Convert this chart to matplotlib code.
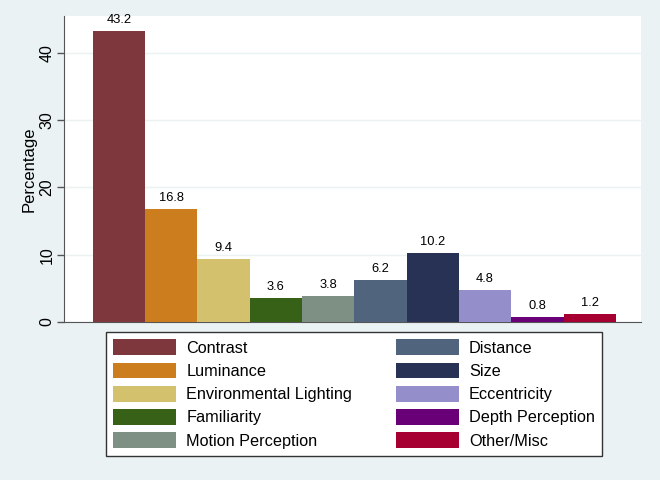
import matplotlib
matplotlib.use("Agg")
import matplotlib.pyplot as plt
from matplotlib.patches import Patch

plt.rcParams['font.family'] = ['Liberation Sans', 'DejaVu Sans']

categories = ["Contrast", "Luminance", "Environmental Lighting", "Familiarity",
              "Motion Perception", "Distance", "Size", "Eccentricity",
              "Depth Perception", "Other/Misc"]
values = [43.2, 16.8, 9.4, 3.6, 3.8, 6.2, 10.2, 4.8, 0.8, 1.2]
colors = ["#7E383D", "#CC7E1F", "#D3C16D", "#386118", "#7D9083",
          "#50657D", "#283254", "#948ECB", "#6A0078", "#A60032"]
yticks = [0, 10, 20, 30, 40]

bg = "#EAF2F3"
fig = plt.figure(figsize=(6.6, 4.8), dpi=100, facecolor=bg)
ax = fig.add_axes([64/660, 1 - 322/480, 577/660, 306/480])
ax.set_facecolor("white")

x = list(range(len(values)))
ax.bar(x, values, width=1.0, color=colors, edgecolor="none", zorder=3)
for xi, v in zip(x, values):
    ax.text(xi, v + 0.75, f"{v:.1f}", ha="center", va="bottom", fontsize=9.3, zorder=4)

ax.set_xlim(-1.05, 9.98)
ax.set_ylim(0, 45.5)
ax.set_xticks([])
ax.set_yticks(yticks)
ax.set_yticklabels([str(t) for t in yticks], rotation=90, va="center", fontsize=11.5)
ax.tick_params(axis="y", length=5, width=1, color="#555555", pad=2)
ax.grid(axis="y", color=bg, linewidth=1, zorder=0)
ax.set_ylabel("Percentage", fontsize=12, labelpad=2)

for s in ["top", "right"]:
    ax.spines[s].set_visible(False)
ax.spines["left"].set_color("#555555")
ax.spines["bottom"].set_color("#555555")

handles = [Patch(facecolor=c, edgecolor="none") for c in colors]
leg = fig.legend(handles, categories, ncol=2, loc="upper left",
                 bbox_to_anchor=(106/660, 1 - 332/480 - 0.01, 496/660, 0.01),
                 mode="expand", fontsize=11.7, frameon=True, fancybox=False,
                 handlelength=3.88, handleheight=1.12, labelspacing=0.42,
                 handletextpad=0.62, borderpad=0.45, borderaxespad=0)
leg.get_frame().set_edgecolor("#333333")
leg.get_frame().set_facecolor("white")
leg.get_frame().set_alpha(1)
leg.get_frame().set_linewidth(1.0)

fig.savefig("out.png", dpi=100, facecolor=bg)
